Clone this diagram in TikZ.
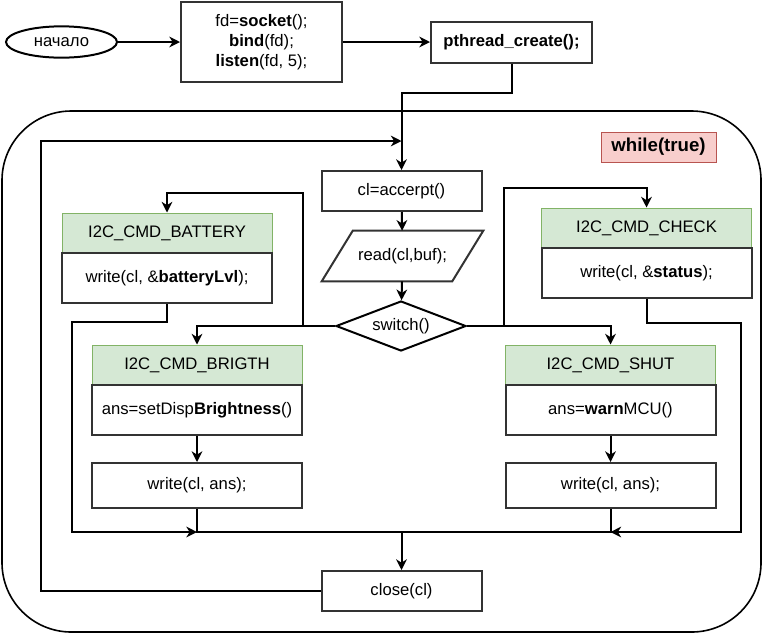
\documentclass[tikz,border=0pt]{standalone}
\usepackage{fontspec}
\setmainfont{Liberation Sans}
\usetikzlibrary{shapes.geometric, arrows.meta}
\definecolor{boxgrey}{HTML}{333333}
\definecolor{hdrfill}{HTML}{D5E8D4}
\definecolor{hdrline}{HTML}{82B366}
\definecolor{loopfill}{HTML}{F8CECC}
\definecolor{loopline}{HTML}{B85450}
\tikzset{>={Stealth[length=8pt, width=8pt, inset=2.5pt]}}
\tikzset{
    txt/.style = {font=\fontsize{12.5}{15}\selectfont, text=black, inner sep=0pt},
    stepbox/.style = {txt, draw=boxgrey, line width=1.5pt, rectangle,
        minimum width=157.5pt, minimum height=37.5pt},
    hdrbox/.style = {txt, draw=hdrline, fill=hdrfill, line width=0.75pt, rectangle,
        minimum width=157.5pt, minimum height=30pt},
    wrbox/.style = {stepbox, minimum height=33.75pt},
    smallbox/.style = {stepbox, minimum width=120pt, minimum height=30pt},
    conn/.style = {line width=1.5pt, black}
}
\begin{document}
\begin{tikzpicture}[x=0.75pt, y=-0.75pt]
    \useasboundingbox (0,0) rectangle (762,633);
    % the loop frame
    \draw [line width=1.2pt, rounded corners=52pt] (2,111) rectangle (761,632);
    \node (while) at (658.5,147) [txt, draw=loopline, fill=loopfill, line width=0.75pt,
        minimum width=86.25pt, minimum height=22.5pt, font=\fontsize{14}{16}\selectfont\bfseries] {while(true)};

    % setup part
    \node (start) at (61.5,42) [txt, ellipse, draw=black, line width=1.5pt,
        minimum width=83.25pt, minimum height=23.5pt] {начало};
    \node (init) at (261.5,42) [stepbox, minimum width=120.75pt, minimum height=60pt, align=center]
        {fd=\textbf{socket}();\\ \textbf{bind}(fd);\\ \textbf{listen}(fd, 5);};
    \node (pthread) at (511.5,42) [stepbox, minimum width=120.75pt, minimum height=30.75pt]
        {\textbf{pthread\_create();}};

    % main loop
    \node (accept) at (401.5,191) [smallbox] {cl=accerpt()};
    \node (read) at (402.5,256) [txt, minimum width=120.75pt, minimum height=37.5pt] {read(cl,buf);};
    \draw [boxgrey, line width=1.5pt] (read.south west) -- ([xshift=23.25pt]read.north west)
        -- (read.north east) -- ([xshift=-23.25pt]read.south east) -- cycle;
    \node (switch) at (401,326) [txt, diamond, draw=black, line width=1.5pt, aspect=2.6,
        minimum width=97.5pt, minimum height=37.5pt] {switch()};
    \node (close) at (401.5,591) [smallbox] {close(cl)};

    % cases
    \node (hbattery) at (167,233) [hdrbox] {I2C\_CMD\_BATTERY};
    \node (bbattery) at (167,278) [stepbox] {write(cl, \&\textbf{batteryLvl});};
    \node (hcheck) at (646.5,228) [hdrbox] {I2C\_CMD\_CHECK};
    \node (bcheck) at (646.5,273) [stepbox] {write(cl, \&\textbf{status});};
    \node (hbrigth) at (197,365) [hdrbox] {I2C\_CMD\_BRIGTH};
    \node (bbrigth) at (197,410) [stepbox] {ans=setDisp\textbf{Brightness}()};
    \node (wbrigth) at (197,485.5) [wrbox] {write(cl, ans);};
    \node (hshut) at (610.5,365) [hdrbox] {I2C\_CMD\_SHUT};
    \node (bshut) at (610.5,410) [stepbox] {ans=\textbf{warn}MCU()};
    \node (wshut) at (610.5,485.5) [wrbox] {write(cl, ans);};

    \coordinate (looptop) at (41,141);
    \coordinate (battup) at (303,193);
    \coordinate (checkup) at (504,188);
    \coordinate (mergel) at (72,532);
    \coordinate (merger) at (741,532);

    % connectors
    \draw [conn, ->] (start) -- (init);
    \draw [conn, ->] (init) -- (pthread);
    \draw [conn, ->] (pthread.south) -- ++(0,29) -| (accept.north);
    \draw [conn, ->] (close.west) -| (looptop) -- (looptop -| accept.north);
    \draw [conn, ->] (accept) -- (read);
    \draw [conn, ->] (read) -- (switch);
    \draw [conn, ->] (switch.west) -| (hbrigth.north);
    \draw [conn, ->] (battup |- switch.west) -- (battup) -| (hbattery.north);
    \draw [conn, ->] (switch.east) -| (hshut.north);
    \draw [conn, ->] (checkup |- switch.east) -- (checkup) -| (hcheck.north);
    \draw [conn, ->] (bbrigth) -- (wbrigth);
    \draw [conn, ->] (bshut) -- (wshut);
    \draw [conn, ->] (bbattery.south) -- ++(0,18) -| (mergel) -- (mergel -| wbrigth.south);
    \draw [conn] (wbrigth.south) |- (merger);
    \draw [conn] (wshut.south) -- (wshut.south |- merger);
    \draw [conn, ->] (bcheck.south) -- ++(0,24) -| (merger) -- (merger -| wshut.south);
    \draw [conn, ->] (close.north |- merger) -- (close.north);
\end{tikzpicture}
\end{document}
